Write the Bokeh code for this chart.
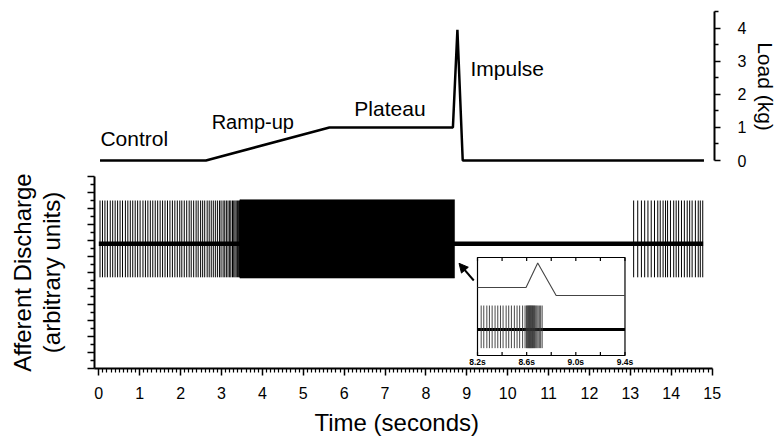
from bokeh.plotting import figure
from bokeh.layouts import column
from bokeh.models import (Range1d, FixedTicker, Label, Arrow, NormalHead,
                          ColumnDataSource, Title)
from bokeh.embed import file_html
from bokeh.resources import INLINE

# ---------------- data ----------------
# Load trace (kg) vs time (s)
load_t = [0.03, 2.62, 5.64, 8.66, 8.77, 8.90, 14.80]
load_kg = [0.0, 0.0, 1.0, 1.0, 3.95, 0.0, 0.0]
phase_names = ["Control", "Ramp-up", "Plateau", "Impulse"]

# Afferent discharge (arbitrary units)
baseline_level = 15.6
spike_top = 21.0
spike_bottom = 11.4
dense_top = 21.1
dense_bottom = 11.3
trace_start = 0.0
trace_end = 14.78
dense_start = 3.45
dense_end = 8.70
spikes_early = [0.03, 0.09, 0.15, 0.21, 0.28, 0.34, 0.40, 0.46, 0.52, 0.58, 0.65, 0.71,
                0.77, 0.83, 0.89, 0.95, 1.01, 1.08, 1.14, 1.20, 1.26, 1.32, 1.38, 1.44,
                1.50, 1.56, 1.62, 1.68, 1.74, 1.80, 1.86, 1.92, 1.98, 2.03, 2.09, 2.15,
                2.21, 2.26, 2.32, 2.38, 2.43, 2.49, 2.54, 2.59, 2.65, 2.70, 2.75, 2.80,
                2.85, 2.90, 2.95, 2.99, 3.04, 3.08, 3.12, 3.16, 3.20, 3.23, 3.27, 3.30,
                3.33, 3.36, 3.39, 3.42, 3.44]
spikes_late = [13.08, 13.18, 13.27, 13.35, 13.43, 13.51, 13.59, 13.67, 13.73, 13.80,
               13.86, 13.91, 13.98, 14.06, 14.12, 14.18, 14.25, 14.32, 14.39, 14.45,
               14.51, 14.59, 14.66, 14.71, 14.77]

# Inset (8.2 s - 9.4 s)
inset_start = 8.2
inset_end = 9.4
inset_load_t = [8.20, 8.595, 8.69, 8.84, 9.40]
inset_load_kg = [1.0, 1.0, 4.05, 0.0, 0.0]
inset_spikes = [8.230, 8.251, 8.276, 8.297, 8.319, 8.343, 8.365, 8.387, 8.408, 8.433,
                8.454, 8.476, 8.500, 8.522, 8.543, 8.567, 8.587,
                8.598, 8.604, 8.609, 8.614, 8.619, 8.624, 8.628, 8.633, 8.637, 8.642,
                8.647, 8.652, 8.657, 8.663, 8.669, 8.676, 8.684, 8.693, 8.703, 8.714, 8.726]
inset_tick_values = [8.2, 8.6, 9.0, 9.4]
inset_tick_labels = ["8.2s", "8.6s", "9.0s", "9.4s"]
inset_minor = [8.2, 8.4, 8.6, 8.8, 9.0, 9.2, 9.4]

time_ticks = list(range(16))
load_ticks = [0, 1, 2, 3, 4]
load_minor = [0.5, 1.5, 2.5, 3.5, 4.5]
disc_major = list(range(0, 25, 2))
disc_minor = list(range(1, 24, 2))

# ---------------- layout (page pixels) ----------------
W, H = 776, 445
FL, FR = 94, 714                 # frame left / right
T_TOP, T_BOT = 10, 162           # top (load) frame
T_FIG_BOT = 170                  # bottom edge of the top figure
B_TOP, B_BOT = 176, 368          # bottom (discharge) frame
FW = FR - FL

PXS = 40.89          # px per second, main
PXU = 8.0            # px per discharge unit
PXK = 33.07          # px per kg (load)
IPXS = 122.9         # px per second, inset
IPXK = 8.0           # px per kg, inset
IPXU = PXU * 0.555   # px per discharge unit, inset
I0K = 295            # inset 0 kg pixel row

def xr(v, px, per):
    return Range1d(v - (px - FL) / per, v + (FR - px) / per)

def yr(v, px, per, top, bot):
    return Range1d(v - (bot - px) / per, v + (px - top) / per)

FONT = "Liberation Sans"
XR = xr(0.0, 98.3, PXS)

def style_axis(ax, major_out, minor_out, lw=2):
    ax.axis_line_width = lw
    ax.major_tick_out = major_out
    ax.major_tick_in = 0
    ax.minor_tick_out = minor_out
    ax.minor_tick_in = 0
    ax.major_tick_line_width = 1.5
    ax.minor_tick_line_width = 1.3
    ax.major_label_text_font = FONT
    ax.major_label_text_color = "black"
    ax.axis_label_text_font = FONT
    ax.axis_label_text_font_style = "normal"
    ax.axis_label_text_color = "black"

def base_fig(y_range, fh, top, bottom, **kw):
    f = figure(x_range=XR, y_range=y_range, frame_width=FW, frame_height=fh,
               min_border_left=FL, min_border_right=W - FR,
               min_border_top=top, min_border_bottom=bottom,
               output_backend="svg", toolbar_location=None, **kw)
    f.grid.visible = False
    f.outline_line_color = None
    f.background_fill_color = "white"
    f.border_fill_color = "white"
    return f

# ================= top figure: load =================
pt = base_fig(yr(0.0, 160, PXK, T_TOP, T_BOT), T_BOT - T_TOP, T_TOP, T_FIG_BOT - T_BOT,
              x_axis_location=None, y_axis_location="right")
la = pt.yaxis[0]
la.ticker = FixedTicker(ticks=load_ticks, minor_ticks=load_minor)
la.bounds = (0, 4.5)
style_axis(la, 6, 4)
la.major_label_text_font_size = "16px"
la.major_label_standoff = 17
la.axis_label = "Load (kg)"
la.axis_label_text_font_size = "21px"
la.axis_label_standoff = 5

pt.line(load_t, load_kg, line_color="black", line_width=2.5)
phase_pos = [(0.04, 0.66), (2.76, 1.15), (6.25, 1.57), (9.09, 2.78)]
phase_size = ["21px", "20px", "21px", "21px"]
for name, (tx, ty), fs in zip(phase_names, phase_pos, phase_size):
    pt.add_layout(Label(x=tx, y=ty, text=name, text_font=FONT, text_font_size=fs,
                        text_align="left", text_baseline="middle", text_color="black"))

# ================= bottom figure: discharge =================
pb = base_fig(yr(0.0, B_BOT, PXU, B_TOP, B_BOT), B_BOT - B_TOP,
              B_TOP - T_FIG_BOT, H - B_BOT)
pb.extra_y_ranges = {
    "iload": yr(0.0, I0K, IPXK, B_TOP, B_BOT),
    "isig": yr(baseline_level, 329, IPXU, B_TOP, B_BOT),
}
pb.extra_x_ranges = {"ix": xr(inset_start, 477, IPXS)}

xa = pb.xaxis[0]
xa.ticker = FixedTicker(ticks=time_ticks,
                        minor_ticks=[i / 10 for i in range(151) if i % 10])
xa.bounds = (XR.start, 15)
style_axis(xa, 7, 4)
xa.minor_tick_line_width = 1.2
xa.major_label_text_font_size = "16px"
xa.major_label_standoff = 11
pb.add_layout(Title(text="Time (seconds)", align="left", offset=220,
                    text_font=FONT, text_font_size="24px", text_font_style="normal",
                    text_color="black", standoff=11), "below")

ya = pb.yaxis[0]
ya.ticker = FixedTicker(ticks=disc_major, minor_ticks=disc_minor)
ya.major_label_overrides = {t: "" for t in disc_major}
ya.major_label_standoff = 0
style_axis(ya, 7, 4)
ya.axis_label = "Afferent Discharge\n(arbitrary units)"
ya.axis_label_text_font_size = "24px"
ya.axis_label_text_line_height = 1.05
ya.axis_label_standoff = 23

# main trace
pb.line([trace_start, trace_end], [baseline_level, baseline_level],
        line_color="black", line_width=4.5)
src = ColumnDataSource(dict(t=spikes_early + spikes_late))
pb.segment(x0="t", x1="t", y0=spike_bottom, y1=spike_top, source=src,
           line_color="black", line_width=1)
pb.quad(left=[dense_start], right=[dense_end], bottom=[dense_bottom], top=[dense_top],
        fill_color="black", line_color="black", line_width=0.5)

# inset
box_top, box_bot = (I0K - 257) / IPXK, (I0K - 355) / IPXK
pb.quad(left=[inset_start], right=[inset_end], top=[box_top], bottom=[box_bot],
        x_range_name="ix", y_range_name="iload",
        fill_color="white", line_color="black", line_width=1.2)
pb.line(inset_load_t, inset_load_kg, x_range_name="ix", y_range_name="iload",
        line_color="#444444", line_width=1.1)
pb.line([inset_start, inset_end], [baseline_level, baseline_level],
        x_range_name="ix", y_range_name="isig", line_color="black", line_width=3)
isrc = ColumnDataSource(dict(t=inset_spikes))
pb.segment(x0="t", x1="t", y0=spike_bottom, y1=spike_top, source=isrc,
           x_range_name="ix", y_range_name="isig", line_color="#333333", line_width=0.9)
tick_len = 3.5 / IPXK
pb.segment(x0=inset_minor, x1=inset_minor, y0=[box_bot] * len(inset_minor),
           y1=[box_bot + tick_len] * len(inset_minor),
           x_range_name="ix", y_range_name="iload", line_color="black", line_width=1.2)
pb.segment(x0=inset_minor, x1=inset_minor, y0=[box_top] * len(inset_minor),
           y1=[box_top - tick_len] * len(inset_minor),
           x_range_name="ix", y_range_name="iload", line_color="black", line_width=1.2)
itsrc = ColumnDataSource(dict(x=inset_tick_values, t=inset_tick_labels,
                              y=[(I0K - 361.5) / IPXK] * len(inset_tick_values)))
pb.text(x="x", y="y", text="t", source=itsrc, x_range_name="ix", y_range_name="iload",
        text_font={"value": FONT}, text_font_size={"value": "8.5px"},
        text_font_style="bold", text_align="center", text_baseline="middle",
        text_color="black")

# arrow pointing to the end of the discharge
pb.add_layout(Arrow(end=NormalHead(size=9, fill_color="black", line_color="black"),
                    x_start=dense_end + 0.47, y_start=baseline_level - 4.6,
                    x_end=dense_end + 0.11, y_end=baseline_level - 2.45,
                    line_color="black", line_width=2))

layout = column(pt, pb, spacing=0)
open("out.html", "w").write(file_html(layout, INLINE))
